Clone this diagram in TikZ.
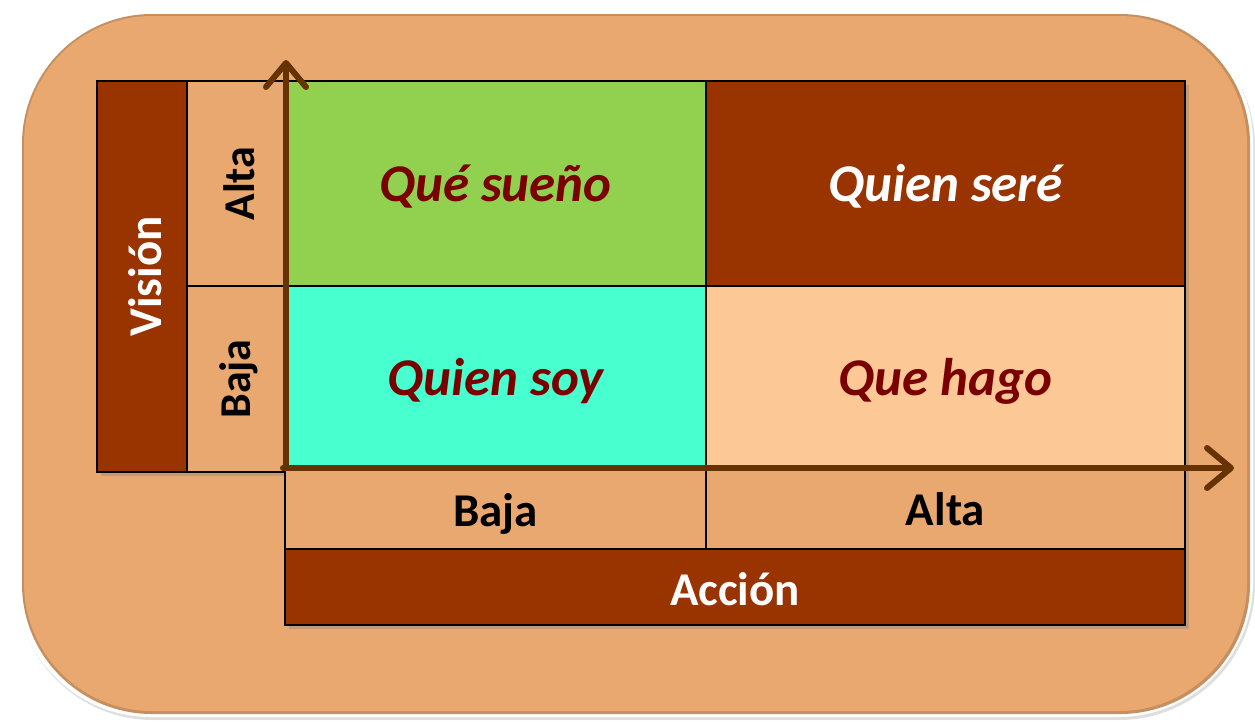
\documentclass[tikz,border=0pt]{standalone}
\usepackage{fontspec}
\setmainfont{Carlito}
\usetikzlibrary{arrows.meta,shadows}
\definecolor{bgorange}{HTML}{E8A870}
\definecolor{darkrust}{HTML}{993300}
\definecolor{qgreen}{HTML}{92D050}
\definecolor{qcyan}{HTML}{48FFD0}
\definecolor{qpeach}{HTML}{FCC896}
\definecolor{txtred}{HTML}{7A0000}
\definecolor{axiscol}{HTML}{663300}
\tikzset{
  cell/.style={draw=black, line width=1.6pt, inner sep=0pt, outer sep=0pt,
    drop shadow={opacity=0.35, shadow xshift=4pt, shadow yshift=-4pt}},
  qtext/.style={font=\fontsize{53}{60}\selectfont\bfseries\itshape},
  lbl/.style={font=\fontsize{47}{54}\selectfont\bfseries},
  axis/.style={draw=axiscol, line width=6pt, line cap=round,
    -{Straight Barb[length=24pt, width=40pt, line cap=round, line join=round]}}
}
\begin{document}
\begin{tikzpicture}[x=1pt, y=-1pt]
\useasboundingbox (0,0) rectangle (1255,721);
% outer rounded panel
\fill[black!25, opacity=0.5, rounded corners=136pt] (17,11) rectangle (1255,720);
\fill[white, rounded corners=135pt] (16,8) rectangle (1253,717);
\fill[bgorange!85!black, rounded corners=130pt] (22,14) rectangle (1250,714);
\fill[bgorange, rounded corners=128pt] (24,16) rectangle (1247,711);
% left label column
\node[cell, fill=darkrust, minimum width=90pt, minimum height=391pt] (vis) at (142,276.5) {};
\node[rotate=90, lbl, text=white] at ([xshift=3pt]vis.center) {Visión};
\node[cell, fill=bgorange, minimum width=98pt, minimum height=205pt] (va) at (236,183.5) {};
\node[rotate=90, lbl, font=\fontsize{44}{50}\selectfont\bfseries] at ([xshift=3pt]va.center) {Alta};
\node[cell, fill=bgorange, minimum width=98pt, minimum height=186pt] (vb) at (236,379) {};
\node[rotate=90, lbl, font=\fontsize{44}{50}\selectfont\bfseries] at ([xshift=3pt]vb.center) {Baja};
% quadrants
\node[cell, fill=qgreen, minimum width=421pt, minimum height=205pt] (q1) at (495.5,183.5) {};
\node[qtext, text=txtred] at ([yshift=-3pt]q1.center) {Qué sueño};
\node[cell, fill=darkrust, minimum width=479pt, minimum height=205pt] (q2) at (945.5,183.5) {};
\node[qtext, text=white] at ([yshift=-3pt]q2.center) {Quien seré};
\node[cell, fill=qcyan, minimum width=421pt, minimum height=184pt] (q3) at (495.5,378) {};
\node[qtext, text=txtred] at ([yshift=-3pt]q3.center) {Quien soy};
\node[cell, fill=qpeach, minimum width=479pt, minimum height=184pt] (q4) at (945.5,378) {};
\node[qtext, text=txtred] at ([yshift=-3pt]q4.center) {Que hago};
% bottom labels
\node[cell, fill=bgorange, minimum width=421pt, minimum height=79pt] (hb) at (495.5,509.5) {};
\node[lbl] at ([yshift=-4pt]hb.center) {Baja};
\node[cell, fill=bgorange, minimum width=479pt, minimum height=79pt] (ha) at (945.5,509.5) {};
\node[lbl] at (ha.center) {Alta};
\node[cell, fill=darkrust, minimum width=900pt, minimum height=76pt] (acc) at (735,587) {};
\node[lbl, text=white] at ([yshift=-2pt]acc.center) {Acción};
% axes
\coordinate (origin) at (286,468);
\coordinate (ytip) at (286,60);
\coordinate (xtip) at (1234,468);
\draw[axis] (origin) -- (ytip);
\draw[axis] ([xshift=-3pt]origin) -- (xtip);
\end{tikzpicture}
\end{document}
